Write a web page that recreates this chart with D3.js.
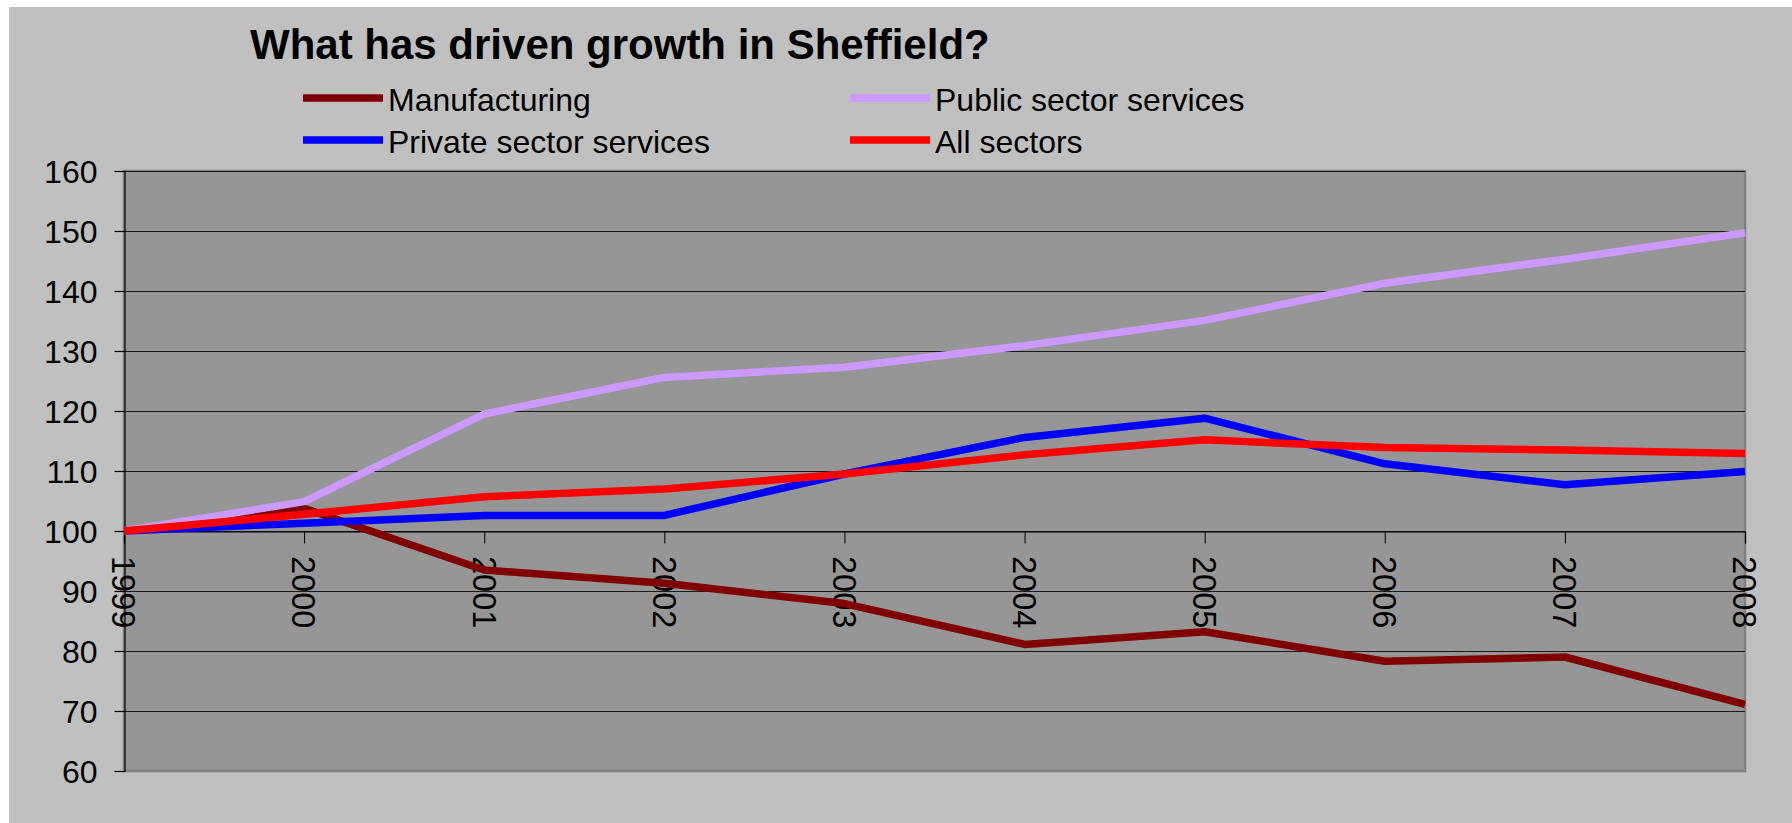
<!DOCTYPE html>
<html>
<head>
<meta charset="utf-8">
<script src="https://cdn.jsdelivr.net/npm/d3@7"></script>
<style>
  body { margin: 0; background: #ffffff; }
  text { font-family: "Liberation Sans", Arial, sans-serif; fill: #000; }
</style>
</head>
<body>
<div class="chart"></div>
<script>
const years = [1999, 2000, 2001, 2002, 2003, 2004, 2005, 2006, 2007, 2008];
const manufacturing = [100, 103.8, 93.5, 91.3, 87.9, 81.1, 83.2, 78.3, 79.0, 71.1];
const publicServices = [100, 104.9, 119.5, 125.6, 127.3, 130.9, 135.1, 141.3, 145.3, 149.7];
const privateServices = [100, 101.3, 102.6, 102.6, 109.5, 115.6, 118.8, 111.2, 107.7, 109.9];
const allSectors = [100, 102.8, 105.7, 107.0, 109.5, 112.7, 115.2, 113.9, 113.5, 112.9];
const yTicks = [60, 70, 80, 90, 100, 110, 120, 130, 140, 150, 160];

const seriesNames = ["Manufacturing", "Public sector services", "Private sector services", "All sectors"];
const seriesValues = [manufacturing, publicServices, privateServices, allSectors];
const seriesColors = ["#800000", "#cc99ff", "#0000ff", "#ff0000"];

const width = 1792, height = 823;
const plot = { left: 124, right: 1745, top: 171, bottom: 771 };

const svg = d3.select(".chart").append("svg")
  .attr("width", width)
  .attr("height", height);

// chart background
svg.append("rect")
  .attr("x", 9)
  .attr("y", 7)
  .attr("width", width - 9)
  .attr("height", height - 7)
  .attr("fill", "#c0c0c0");

const x = d3.scalePoint()
  .domain(years)
  .range([plot.left, plot.right]);

const y = d3.scaleLinear()
  .domain([60, 160])
  .range([plot.bottom, plot.top]);

// plot area
svg.append("rect")
  .attr("x", plot.left)
  .attr("y", plot.top)
  .attr("width", plot.right - plot.left)
  .attr("height", plot.bottom - plot.top)
  .attr("fill", "#969696")
  .attr("stroke", "#808080")
  .attr("stroke-width", 2.5);

// gridlines
svg.append("g")
  .selectAll("line")
  .data(yTicks.slice(1))
  .join("line")
  .attr("x1", plot.left)
  .attr("x2", plot.right)
  .attr("y1", d => Math.round(y(d)) + 0.5)
  .attr("y2", d => Math.round(y(d)) + 0.5)
  .attr("stroke", "#1a1a1a")
  .attr("stroke-width", 1.2);

// y axis
const yAxis = svg.append("g")
  .attr("transform", "translate(" + (plot.left + 0.5) + ",0)")
  .call(d3.axisLeft(y).tickValues(yTicks).tickSize(10));
yAxis.select(".domain").attr("stroke", "#000").attr("stroke-width", 1.2);
yAxis.selectAll(".tick line").attr("stroke", "#000").attr("stroke-width", 1.2);
yAxis.selectAll(".tick text")
  .attr("font-size", 32)
  .attr("font-family", "Liberation Sans, Arial, sans-serif")
  .attr("fill", "#000")
  .attr("x", -27)
  .attr("dy", "0.36em");

// x axis crosses at 100
const xAxis = svg.append("g")
  .attr("transform", "translate(0," + (Math.round(y(100)) + 0.5) + ")")
  .call(d3.axisBottom(x).tickSize(12).tickFormat(""));
xAxis.select(".domain").attr("stroke", "#000").attr("stroke-width", 1.2);
xAxis.selectAll(".tick line").attr("stroke", "#000").attr("stroke-width", 1);

svg.append("g")
  .selectAll("text")
  .data(years)
  .join("text")
  .attr("transform", d => "translate(" + x(d) + "," + 556 + ") rotate(90)")
  .attr("dy", "0.36em")
  .attr("font-size", 32.5)
  .text(d => d);

// lines
const line = d3.line()
  .x((d, i) => x(years[i]))
  .y(d => y(d));

seriesValues.forEach((values, i) => {
  svg.append("path")
    .datum(values)
    .attr("d", line)
    .attr("fill", "none")
    .attr("stroke", seriesColors[i])
    .attr("stroke-width", 7.5)
    .attr("stroke-linejoin", "round");
});

// title
svg.append("text")
  .attr("x", 250)
  .attr("y", 59)
  .attr("font-size", 42)
  .attr("font-weight", "bold")
  .text("What has driven growth in Sheffield?");

// legend, two columns, row-major
const legendCols = [303, 850];
const legendRows = [98, 140];
seriesNames.forEach((name, i) => {
  const lx = legendCols[i % 2];
  const ly = legendRows[Math.floor(i / 2)];
  svg.append("line")
    .attr("x1", lx)
    .attr("x2", lx + 80)
    .attr("y1", ly)
    .attr("y2", ly)
    .attr("stroke", seriesColors[i])
    .attr("stroke-width", 7.5);
  svg.append("text")
    .attr("x", lx + 85)
    .attr("y", ly + 13)
    .attr("font-size", 32)
    .text(name);
});
</script>
</body>
</html>
